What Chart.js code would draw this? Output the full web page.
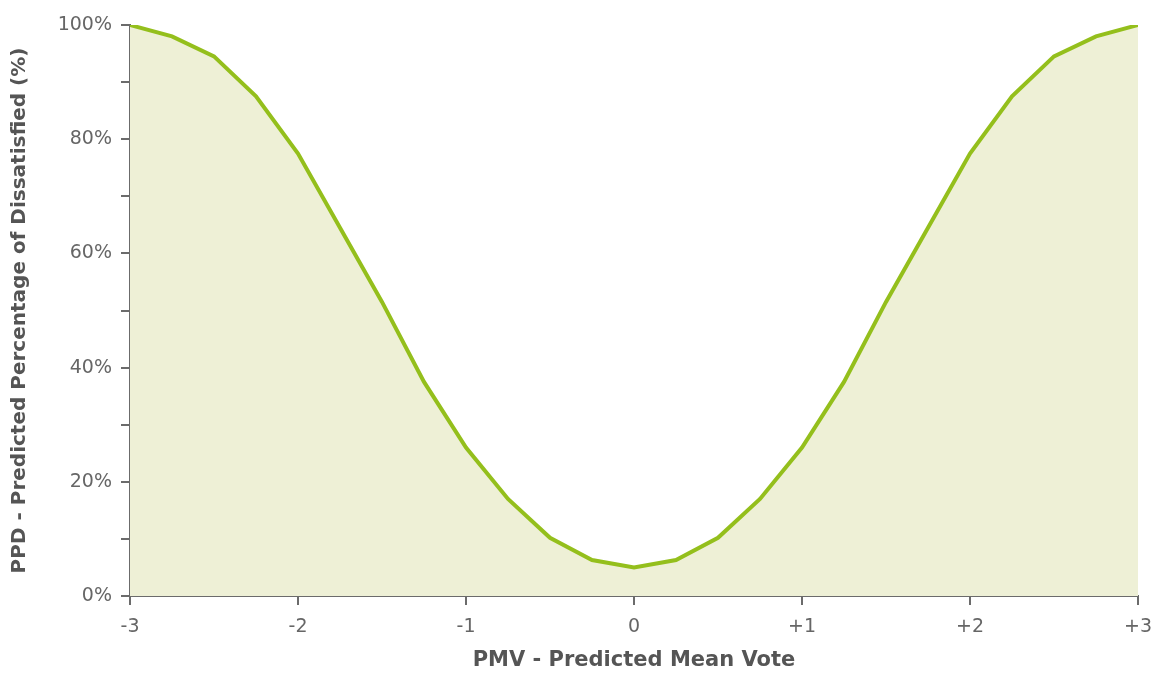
<!DOCTYPE html>
<html>
<head>
<meta charset="utf-8">
<script src="https://cdn.jsdelivr.net/npm/chart.js@4"></script>
<style>
  html, body { margin: 0; padding: 0; background: #fff; }
  #grafico { display: block; }
</style>
</head>
<body>
<canvas id="grafico" width="1154" height="673"></canvas>
<script>
// PMV em passos de 0.25
const pmv = [-3, -2.75, -2.5, -2.25, -2, -1.75, -1.5, -1.25, -1, -0.75, -0.5, -0.25,
  0, 0.25, 0.5, 0.75, 1, 1.25, 1.5, 1.75, 2, 2.25, 2.5, 2.75, 3];
// PPD (%)
const ppd = [100, 98, 94.5, 87.5, 77.5, 64.5, 51.5, 37.5, 26, 17, 10.2, 6.3,
  5, 6.3, 10.2, 17, 26, 37.5, 51.5, 64.5, 77.5, 87.5, 94.5, 98, 100];
const yLabelTicks = [0, 20, 40, 60, 80, 100];
const xTitle = 'PMV - Predicted Mean Vote';
const yTitle = 'PPD - Predicted Percentage of Dissatisfied (%)';

const cinza = '#6b6b6b';

new Chart(document.getElementById('grafico'), {
    type: 'line',
    data: {
        datasets: [{
            data: pmv.map((x, i) => ({ x: x, y: ppd[i] })),
            borderColor: '#94bf1c',
            backgroundColor: '#eef0d6',
            borderWidth: 4,
            fill: 'origin',
            tension: 0,
            pointRadius: 0
        }]
    },
    options: {
        responsive: false,
        animation: false,
        layout: { padding: { left: 8, right: 16, top: 25, bottom: 0 } },
        plugins: {
            legend: { display: false },
            tooltip: { enabled: false }
        },
        scales: {
            x: {
                type: 'linear',
                min: -3,
                max: 3,
                border: { display: true, color: cinza, width: 2 },
                grid: { drawOnChartArea: false, drawTicks: true, tickLength: 9, color: cinza, lineWidth: 2 },
                ticks: {
                    stepSize: 1,
                    color: '#666',
                    padding: 11,
                    font: { family: 'DejaVu Sans', size: 19 },
                    callback: function (v) {
                        return v > 0 ? '+' + v : String(v);
                    }
                },
                title: {
                    display: true,
                    text: xTitle,
                    color: '#555',
                    font: { family: 'DejaVu Sans', size: 21, weight: 'bold' },
                    padding: { top: 6, bottom: 0 }
                },
                afterFit: function (scale) {
                    scale.height = 77;
                    // o rótulo +3 pode sair um pouco da área
                    scale.paddingRight = 0;
                    scale.paddingLeft = 0;
                }
            },
            y: {
                min: 0,
                max: 100,
                border: { display: true, color: cinza, width: 2 },
                grid: { drawOnChartArea: false, drawTicks: true, tickLength: 9, color: cinza, lineWidth: 2 },
                ticks: {
                    stepSize: 10,
                    color: '#666',
                    padding: 9,
                    font: { family: 'DejaVu Sans', size: 19 },
                    callback: function (v) {
                        return yLabelTicks.includes(v) ? v + '%' : '';
                    }
                },
                title: {
                    display: true,
                    text: yTitle,
                    color: '#555',
                    font: { family: 'DejaVu Sans', size: 20, weight: 'bold' },
                    padding: { top: 0, bottom: 4 }
                },
                afterFit: function (scale) { scale.width = 122; }
            }
        }
    }
});
</script>
</body>
</html>
